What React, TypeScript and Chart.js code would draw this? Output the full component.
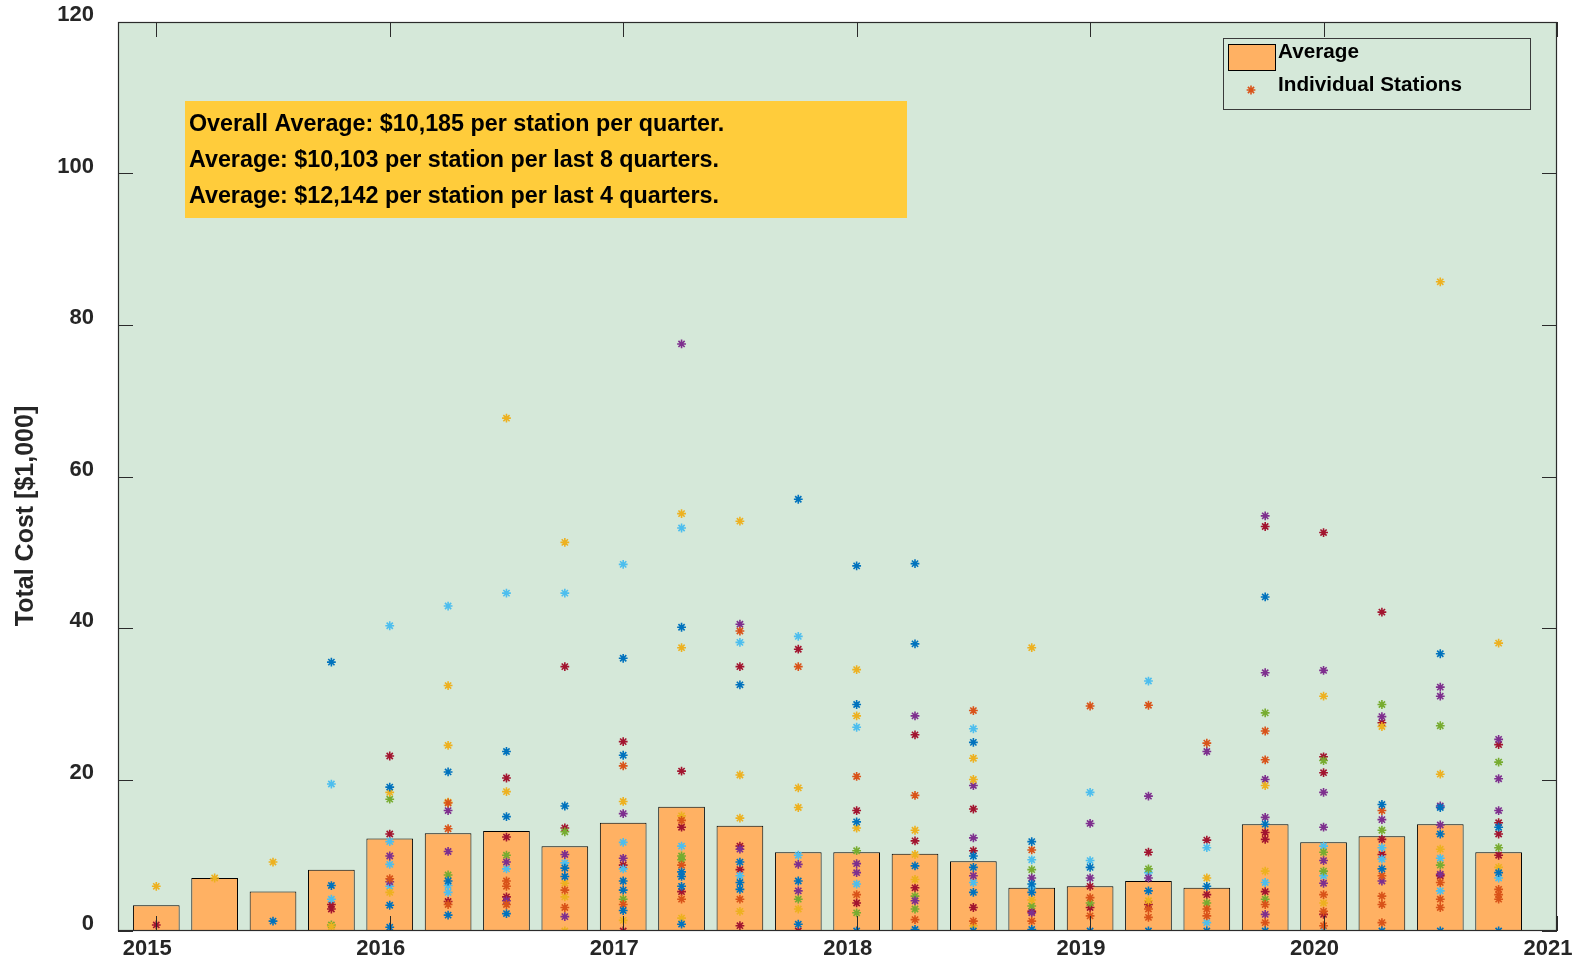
import React, { useEffect, useRef } from 'react';
import { Chart, registerables } from 'chart.js';

Chart.register(...registerables);

// ---------- data ----------
const quarters = [
  2015, 2015.25, 2015.5, 2015.75, 2016, 2016.25, 2016.5, 2016.75,
  2017, 2017.25, 2017.5, 2017.75, 2018, 2018.25, 2018.5, 2018.75,
  2019, 2019.25, 2019.5, 2019.75, 2020, 2020.25, 2020.5, 2020.75,
];

const averageCost = [
  3.4, 7.0, 5.2, 8.1, 12.2, 12.9, 13.2, 11.2,
  14.3, 16.4, 13.9, 10.4, 10.4, 10.2, 9.2, 5.7,
  5.9, 6.6, 5.7, 14.1, 11.7, 12.5, 14.1, 10.4,
];

const yearTicks = [2015, 2016, 2017, 2018, 2019, 2020, 2021];
const yTicks = [0, 20, 40, 60, 80, 100, 120];

const stationColors: Record<string, string> = {
  B: '#0072BD', O: '#D95319', Y: '#EDB120', P: '#7E2F8E',
  G: '#77AC30', L: '#4DBEEE', R: '#A2142F',
};

type Pt = [number, string];
const q00: Pt[] = [[5.9, 'Y'], [0.8, 'R']];
const q01: Pt[] = [[7.0, 'Y']];
const q02: Pt[] = [[9.1, 'Y'], [1.3, 'B']];
const q03: Pt[] = [[35.5, 'B'], [19.4, 'L'], [6.0, 'B'], [4.2, 'L'], [3.5, 'R'], [2.9, 'R'], [0.8, 'G'], [0.6, 'Y']];
const q04: Pt[] = [[40.3, 'L'], [23.1, 'R'], [19.0, 'B'], [18.3, 'Y'], [17.4, 'G'], [12.8, 'R'], [11.8, 'L'], [9.9, 'P'], [8.8, 'L'], [6.9, 'O'], [6.5, 'P'], [5.9, 'L'], [5.1, 'Y'], [3.4, 'B'], [0.5, 'B']];
const q05: Pt[] = [[42.9, 'L'], [32.4, 'Y'], [24.5, 'Y'], [21.0, 'B'], [17.0, 'Y'], [16.9, 'O'], [15.9, 'P'], [13.5, 'O'], [10.5, 'P'], [7.4, 'G'], [6.6, 'B'], [6.0, 'L'], [5.1, 'L'], [3.9, 'R'], [3.5, 'O'], [2.1, 'B']];
const q06: Pt[] = [[67.7, 'Y'], [44.6, 'L'], [23.7, 'B'], [20.2, 'R'], [18.4, 'Y'], [15.1, 'B'], [12.4, 'R'], [10.0, 'G'], [9.1, 'P'], [8.2, 'L'], [6.6, 'O'], [5.9, 'O'], [4.5, 'R'], [4.0, 'P'], [3.5, 'O'], [2.3, 'B']];
const q07: Pt[] = [[51.3, 'Y'], [44.6, 'L'], [34.9, 'R'], [16.5, 'B'], [13.6, 'R'], [13.1, 'G'], [10.1, 'P'], [9.0, 'L'], [8.3, 'B'], [7.2, 'B'], [6.3, 'Y'], [5.4, 'O'], [4.5, 'Y'], [3.1, 'O'], [1.9, 'P'], [0, 'Y']];
const q08: Pt[] = [[48.4, 'L'], [36.0, 'B'], [25.0, 'R'], [23.2, 'B'], [21.8, 'O'], [17.1, 'Y'], [15.5, 'P'], [11.7, 'L'], [9.6, 'P'], [8.7, 'R'], [8.2, 'L'], [6.6, 'B'], [5.4, 'B'], [4.2, 'G'], [3.5, 'O'], [2.7, 'B'], [1.4, 'Y'], [0, 'R']];
const q09: Pt[] = [[77.5, 'P'], [55.1, 'Y'], [53.2, 'L'], [40.1, 'B'], [37.4, 'Y'], [21.1, 'R'], [15.2, 'Y'], [14.6, 'O'], [13.7, 'R'], [11.2, 'L'], [9.9, 'G'], [9.4, 'G'], [8.7, 'O'], [7.8, 'B'], [7.2, 'B'], [5.9, 'B'], [5.2, 'R'], [4.2, 'O'], [1.7, 'Y'], [0.9, 'B']];
const q10: Pt[] = [[54.1, 'Y'], [40.5, 'P'], [39.6, 'O'], [38.1, 'L'], [34.9, 'R'], [32.5, 'B'], [20.6, 'Y'], [14.9, 'Y'], [11.2, 'R'], [10.8, 'P'], [9.1, 'B'], [8.1, 'R'], [7.3, 'L'], [6.4, 'B'], [5.5, 'B'], [4.2, 'O'], [2.6, 'Y'], [0.7, 'R']];
const q11: Pt[] = [[57.0, 'B'], [38.9, 'L'], [37.2, 'R'], [34.9, 'O'], [18.9, 'Y'], [16.3, 'Y'], [10.0, 'L'], [8.8, 'P'], [6.6, 'B'], [5.3, 'P'], [4.2, 'G'], [2.9, 'Y'], [0.9, 'B'], [0, 'R']];
const q12: Pt[] = [[48.2, 'B'], [34.5, 'Y'], [29.9, 'B'], [28.4, 'Y'], [26.9, 'L'], [20.4, 'O'], [15.9, 'R'], [14.4, 'B'], [13.6, 'Y'], [10.6, 'G'], [8.9, 'P'], [7.7, 'P'], [6.2, 'L'], [4.8, 'O'], [3.7, 'R'], [2.4, 'G'], [0, 'B']];
const q13: Pt[] = [[48.5, 'B'], [37.9, 'B'], [28.4, 'P'], [25.9, 'R'], [17.9, 'O'], [13.3, 'Y'], [11.9, 'R'], [10.1, 'Y'], [8.6, 'B'], [6.8, 'Y'], [5.7, 'R'], [4.6, 'G'], [4.0, 'P'], [2.9, 'G'], [1.5, 'O'], [0.2, 'B']];
const q14: Pt[] = [[29.1, 'O'], [26.7, 'L'], [24.9, 'B'], [22.8, 'Y'], [20.0, 'Y'], [19.2, 'P'], [16.1, 'R'], [12.3, 'P'], [10.6, 'R'], [9.9, 'B'], [8.4, 'B'], [7.3, 'P'], [6.4, 'L'], [5.1, 'B'], [3.1, 'R'], [1.3, 'O'], [0.7, 'Y'], [0, 'B']];
const q15: Pt[] = [[37.4, 'Y'], [11.8, 'B'], [10.7, 'O'], [9.4, 'L'], [8.1, 'G'], [7.0, 'P'], [6.2, 'B'], [5.7, 'L'], [5.1, 'B'], [4.1, 'Y'], [3.3, 'G'], [2.6, 'R'], [2.4, 'P'], [1.3, 'O'], [0.2, 'B']];
const q16: Pt[] = [[29.7, 'O'], [18.3, 'L'], [14.2, 'P'], [9.3, 'L'], [8.4, 'B'], [7.0, 'P'], [5.9, 'R'], [4.4, 'O'], [3.7, 'G'], [3.1, 'R'], [2.0, 'O'], [0, 'B']];
const q17: Pt[] = [[33.0, 'L'], [29.8, 'O'], [17.8, 'P'], [10.4, 'R'], [8.2, 'G'], [7.7, 'L'], [7.0, 'P'], [5.3, 'B'], [4.0, 'Y'], [3.5, 'R'], [2.9, 'O'], [1.8, 'O'], [0, 'B']];
const q18: Pt[] = [[24.8, 'O'], [23.7, 'P'], [12.0, 'R'], [11.0, 'L'], [7.0, 'Y'], [5.9, 'B'], [4.8, 'R'], [3.7, 'G'], [2.9, 'O'], [2.0, 'O'], [1.1, 'L'], [0, 'B']];
const q19: Pt[] = [[54.8, 'P'], [53.4, 'R'], [44.1, 'B'], [34.1, 'P'], [28.8, 'G'], [26.4, 'O'], [22.6, 'O'], [20.0, 'P'], [19.2, 'Y'], [15.0, 'P'], [14.1, 'B'], [13.0, 'R'], [12.1, 'R'], [7.9, 'Y'], [6.4, 'L'], [5.2, 'R'], [4.2, 'G'], [3.5, 'O'], [2.2, 'P'], [1.1, 'O'], [0, 'B']];
const q20: Pt[] = [[52.6, 'R'], [34.4, 'P'], [31.0, 'Y'], [23.0, 'R'], [22.5, 'G'], [20.9, 'R'], [18.3, 'P'], [13.7, 'P'], [11.2, 'L'], [10.4, 'G'], [9.3, 'P'], [7.9, 'G'], [7.3, 'L'], [6.3, 'P'], [4.8, 'O'], [3.7, 'Y'], [2.6, 'O'], [2.2, 'R'], [0.7, 'O'], [0, 'L']];
const q21: Pt[] = [[42.1, 'R'], [29.9, 'G'], [28.3, 'P'], [27.5, 'R'], [27.0, 'Y'], [16.7, 'B'], [15.9, 'O'], [14.7, 'P'], [13.3, 'G'], [12.1, 'R'], [11.0, 'L'], [10.1, 'R'], [9.5, 'L'], [8.2, 'B'], [7.3, 'O'], [6.6, 'P'], [4.6, 'O'], [3.5, 'O'], [1.1, 'O'], [0, 'B']];
const q22: Pt[] = [[85.7, 'Y'], [36.6, 'B'], [32.2, 'P'], [31.0, 'P'], [27.1, 'G'], [20.7, 'Y'], [16.5, 'P'], [16.3, 'B'], [14.0, 'P'], [12.8, 'B'], [10.8, 'Y'], [9.6, 'L'], [8.7, 'G'], [7.5, 'P'], [7.3, 'R'], [6.4, 'O'], [5.3, 'L'], [4.2, 'O'], [3.1, 'O'], [0, 'B']];
const q23: Pt[] = [[38.0, 'Y'], [25.3, 'P'], [24.6, 'R'], [22.3, 'G'], [20.1, 'P'], [15.9, 'P'], [14.3, 'R'], [13.7, 'B'], [12.8, 'R'], [11.0, 'G'], [10.0, 'R'], [8.4, 'Y'], [7.7, 'B'], [7.0, 'L'], [5.5, 'O'], [4.8, 'O'], [4.2, 'O'], [0, 'B']];

const stationCosts: Pt[][] = [
  q00, q01, q02, q03, q04, q05, q06, q07, q08, q09, q10, q11,
  q12, q13, q14, q15, q16, q17, q18, q19, q20, q21, q22, q23,
];

const summaryLines = [
  'Overall Average: $10,185 per station per quarter.',
  'Average: $10,103 per station per last 8 quarters.',
  'Average: $12,142 per station per last 4 quarters.',
];
const legendLabels = ['Average', 'Individual Stations'];
const yAxisTitle = 'Total Cost [$1,000]';

// ---------- styles ----------
const FONT = '"Liberation Sans", Arial, Helvetica, sans-serif';
const PLOT_BG = '#D5E8D9';
const BAR_FILL = '#FFB163';
const BOX_FILL = '#FFCC3B';
const AXIS_COLOR = '#2b2b2b';
const TEXT_COLOR = '#262626';
const MARK_R = 4.4;
const MARK_W = 1.6;

function drawStar(ctx: CanvasRenderingContext2D, x: number, y: number, r: number, color: string) {
  ctx.save();
  ctx.strokeStyle = color;
  ctx.lineWidth = MARK_W;
  ctx.beginPath();
  ctx.moveTo(x - r, y); ctx.lineTo(x + r, y);
  ctx.moveTo(x, y - r); ctx.lineTo(x, y + r);
  const d = r * Math.SQRT1_2;
  ctx.moveTo(x - d, y - d); ctx.lineTo(x + d, y + d);
  ctx.moveTo(x - d, y + d); ctx.lineTo(x + d, y - d);
  ctx.stroke();
  ctx.restore();
}

const decorPlugin = {
  id: 'matlabDecor',
  beforeDatasetsDraw(chart: any) {
    const { ctx, chartArea: a } = chart;
    ctx.save();
    ctx.fillStyle = PLOT_BG;
    ctx.fillRect(a.left, a.top, a.right - a.left, a.bottom - a.top);
    ctx.restore();
  },
  afterDatasetsDraw(chart: any) {
    const { ctx, chartArea: a } = chart;
    const xs = chart.scales.x;
    const ys = chart.scales.y;
    ctx.save();
    // frame
    ctx.strokeStyle = AXIS_COLOR;
    ctx.lineWidth = 1.2;
    ctx.strokeRect(a.left + 0.5, a.top + 0.5, a.right - a.left - 1, a.bottom - a.top - 1);
    // inward ticks
    const tl = 15;
    ctx.lineWidth = 1;
    ctx.beginPath();
    yearTicks.forEach((v) => {
      const px = Math.round(xs.getPixelForValue(v)) + 0.5;
      ctx.moveTo(px, a.bottom); ctx.lineTo(px, a.bottom - tl);
      ctx.moveTo(px, a.top); ctx.lineTo(px, a.top + tl);
    });
    yTicks.forEach((v) => {
      const py = Math.round(ys.getPixelForValue(v)) + 0.5;
      ctx.moveTo(a.left, py); ctx.lineTo(a.left + tl, py);
      ctx.moveTo(a.right, py); ctx.lineTo(a.right - tl, py);
    });
    ctx.stroke();

    // y axis title
    ctx.save();
    ctx.translate(26, 516);
    ctx.rotate(-Math.PI / 2);
    ctx.fillStyle = TEXT_COLOR;
    ctx.font = `bold 25px ${FONT}`;
    ctx.textAlign = 'center';
    ctx.textBaseline = 'middle';
    ctx.fillText(yAxisTitle, 0, 0);
    ctx.restore();

    // summary text box
    ctx.fillStyle = BOX_FILL;
    ctx.fillRect(185, 101, 722, 117);
    ctx.fillStyle = '#000';
    ctx.font = `bold 23.3px ${FONT}`;
    ctx.textAlign = 'left';
    ctx.textBaseline = 'alphabetic';
    summaryLines.forEach((t, i) => ctx.fillText(t, 189, 131 + i * 36));

    // legend
    ctx.fillStyle = PLOT_BG;
    ctx.fillRect(1223, 38, 307, 71);
    ctx.strokeStyle = '#3a3a3a';
    ctx.lineWidth = 1;
    ctx.strokeRect(1223.5, 38.5, 307, 71);
    ctx.fillStyle = BAR_FILL;
    ctx.fillRect(1228, 44, 47, 26);
    ctx.strokeStyle = '#000';
    ctx.strokeRect(1228.5, 44.5, 47, 26);
    drawStar(ctx, 1251, 90, MARK_R, stationColors.O);
    ctx.fillStyle = '#000';
    ctx.font = `bold 20.7px ${FONT}`;
    ctx.fillText(legendLabels[0], 1278, 58);
    ctx.fillText(legendLabels[1], 1278, 91);
    ctx.restore();
  },
};

const zeroPad = (scale: any) => {
  scale.paddingTop = 0;
  scale.paddingBottom = 0;
  scale.paddingLeft = 0;
  scale.paddingRight = 0;
};

export default function App() {
  const canvasRef = useRef<HTMLCanvasElement | null>(null);

  useEffect(() => {
    if (!canvasRef.current) return;

    const scatterSets = Object.keys(stationColors).map((code) => ({
      type: 'scatter' as const,
      label: 'Individual Stations ' + code,
      data: stationCosts.flatMap((pts, i) =>
        pts.filter((p) => p[1] === code).map((p) => ({ x: quarters[i], y: p[0] }))
      ),
      pointStyle: 'star' as const,
      pointRadius: MARK_R,
      pointHoverRadius: MARK_R,
      pointBorderWidth: MARK_W,
      borderColor: stationColors[code],
      backgroundColor: stationColors[code],
      showLine: false,
      order: 1,
    }));

    const barSet = {
      type: 'bar' as const,
      label: 'Average',
      data: quarters.map((x, i) => ({ x, y: averageCost[i] })),
      backgroundColor: BAR_FILL,
      borderColor: '#000',
      borderWidth: 1,
      borderSkipped: false,
      categoryPercentage: 0.8,
      barPercentage: 1,
      order: 2,
    };

    const chart = new Chart(canvasRef.current, {
      type: 'scatter',
      data: { datasets: [...scatterSets, barSet] as any },
      options: {
        animation: false,
        responsive: true,
        maintainAspectRatio: false,
        layout: { padding: { top: 22, right: 24, bottom: 0, left: 0 } },
        plugins: { legend: { display: false }, tooltip: { enabled: false } },
        scales: {
          x: {
            type: 'linear',
            min: 2014.836,
            max: 2021,
            offset: false,
            grid: { display: false, drawTicks: false },
            border: { display: false },
            afterBuildTicks: (scale: any) => {
              scale.ticks = yearTicks.map((v) => ({ value: v }));
            },
            afterFit: (scale: any) => { scale.height = 33; zeroPad(scale); },
            ticks: {
              autoSkip: false,
              maxRotation: 0,
              padding: 5,
              labelOffset: -9,
              color: TEXT_COLOR,
              font: { family: FONT, size: 22, weight: 'bold' },
              callback: (v: any) => String(v),
            },
          },
          y: {
            type: 'linear',
            min: 0,
            max: 120,
            grid: { display: false, drawTicks: false },
            border: { display: false },
            afterBuildTicks: (scale: any) => {
              scale.ticks = yTicks.map((v) => ({ value: v }));
            },
            afterFit: (scale: any) => { scale.width = 118; zeroPad(scale); },
            ticks: {
              autoSkip: false,
              padding: 24,
              labelOffset: -7,
              color: TEXT_COLOR,
              font: { family: FONT, size: 22, weight: 'bold' },
              callback: (v: any) => String(v),
            },
          },
        },
      } as any,
      plugins: [decorPlugin],
    });

    return () => chart.destroy();
  }, []);

  return (
    <div style={{ position: 'absolute', left: 0, top: 0, width: 1581, height: 964 }}>
      <canvas ref={canvasRef} />
    </div>
  );
}
